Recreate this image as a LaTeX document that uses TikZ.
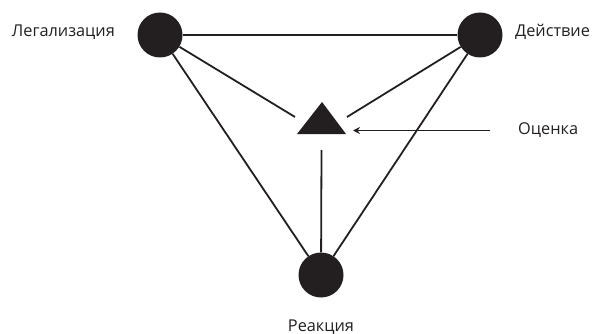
\documentclass[tikz,border=0pt]{standalone}
\usepackage{fontspec}
\setmainfont{Open Sans}
\usetikzlibrary{arrows.meta}
\definecolor{ink}{HTML}{231F20}
\begin{document}
\begin{tikzpicture}[x=1pt,y=-1pt,
  dot/.style={circle,fill=ink,draw=none,minimum size=45pt,inner sep=0pt},
  lbl/.style={text=ink,font=\fontsize{16.3}{18}\selectfont,inner sep=0pt},
  edge/.style={draw=ink,line width=1.8pt},
  tri/.style={fill=ink,draw=none}]
\useasboundingbox (0,0) rectangle (596,334);
\node[dot] (L) at (160,35) {};
\node[dot] (D) at (480,35) {};
\node[dot] (R) at (321,275) {};
\fill[tri] (297,134) -- (322,102) -- (346,134) -- cycle;
\coordinate (Ta) at (295,117);
\coordinate (Tb) at (347,117);
\coordinate (Tc) at (321.5,150);
\node[lbl,anchor=east] (lL) at (115,32) {Легализация};
\node[lbl,anchor=west] (lD) at (515,32) {Действие};
\node[lbl,anchor=west] (lO) at (518,130) {Оценка};
\node[lbl] (lR) at (321,327) {Реакция};
\coordinate (A0) at (490,130.5);
\coordinate (A1) at (353,130.5);
\draw[edge] (L) -- (D);
\draw[edge] (L) -- (R);
\draw[edge] (D) -- (R);
\draw[edge] (L) -- (Ta);
\draw[edge] (D) -- (Tb);
\draw[edge] (R) -- (Tc);
\draw[edge,-{Stealth[length=7pt,width=7pt]}] (A0) -- (A1);
\end{tikzpicture}
\end{document}
